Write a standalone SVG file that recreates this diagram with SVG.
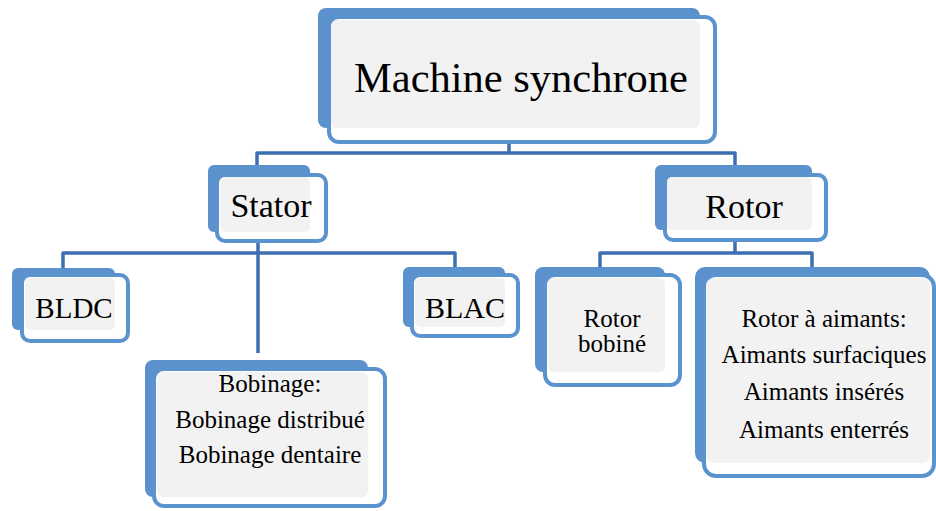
<svg xmlns="http://www.w3.org/2000/svg" width="936" height="511" viewBox="0 0 936 511">
  <style>
    .back { fill: #5b91cc; }
    .front { fill: #ffffff; stroke: #5b93cf; stroke-width: 4; }
    .face { fill: #f2f2f2; }
    .link { fill: none; stroke: #3d6fb3; stroke-width: 3.5; stroke-linejoin: round; }
    text { font-family: "Liberation Serif", "Times New Roman", serif; fill: #000; text-anchor: middle; }
  </style>

  <!-- connectors -->
  <g id="connectors">
    <path class="link" d="M509 144 V153 M257 165 V153 H735 V165"/>
    <path class="link" d="M258 243 V353 M63 268 V253 H455 V267"/>
    <path class="link" d="M735 242 V253 M600 267 V253 H812 V267"/>
  </g>

  <!-- root -->
  <g id="machine-synchrone">
    <rect class="back" x="318" y="8" width="382" height="120" rx="8"/>
    <rect class="front" x="329" y="17" width="386" height="125" rx="10"/>
    <rect class="face" x="331" y="20" width="369" height="108" rx="6"/>
    <text x="521" y="92" font-size="42.5">Machine synchrone</text>
  </g>

  <g id="stator">
    <rect class="back" x="208" y="165" width="102" height="67" rx="6"/>
    <rect class="front" x="217" y="175" width="109" height="66" rx="8"/>
    <rect class="face" x="220" y="177" width="90" height="55" rx="5"/>
    <text x="271" y="217" font-size="34">Stator</text>
  </g>

  <g id="rotor">
    <rect class="back" x="655" y="165" width="157" height="65" rx="6"/>
    <rect class="front" x="665" y="175" width="161" height="65" rx="8"/>
    <rect class="face" x="667" y="177" width="145" height="53" rx="5"/>
    <text x="744" y="218" font-size="34">Rotor</text>
  </g>

  <g id="bldc">
    <rect class="back" x="12" y="268" width="103" height="62" rx="6"/>
    <rect class="front" x="22" y="275" width="106" height="66" rx="8"/>
    <rect class="face" x="25" y="278" width="90" height="52" rx="5"/>
    <text x="74" y="318" font-size="29">BLDC</text>
  </g>

  <g id="blac">
    <rect class="back" x="403" y="267" width="102" height="60" rx="6"/>
    <rect class="front" x="412" y="275" width="106" height="61" rx="8"/>
    <rect class="face" x="415" y="278" width="90" height="49" rx="5"/>
    <text x="465" y="318" font-size="30">BLAC</text>
  </g>

  <g id="bobinage">
    <rect class="back" x="145" y="360" width="223" height="137" rx="8"/>
    <rect class="front" x="154" y="369" width="231" height="137" rx="10"/>
    <rect class="face" x="157" y="372" width="211" height="125" rx="6"/>
    <text x="270" y="392" font-size="25">Bobinage:</text>
    <text x="270" y="428" font-size="25">Bobinage distribué</text>
    <text x="270" y="463" font-size="25">Bobinage dentaire</text>
  </g>

  <g id="rotor-bobine">
    <rect class="back" x="535" y="267" width="130" height="105" rx="8"/>
    <rect class="front" x="545" y="275" width="135" height="110" rx="10"/>
    <rect class="face" x="548" y="278" width="117" height="94" rx="6"/>
    <text x="612" y="327" font-size="25">Rotor</text>
    <text x="612" y="352" font-size="25">bobiné</text>
  </g>

  <g id="rotor-aimants">
    <rect class="back" x="695" y="267" width="235" height="196" rx="10"/>
    <rect class="front" x="704" y="275" width="230" height="201" rx="12"/>
    <rect class="face" x="706" y="278" width="224" height="185" rx="8"/>
    <text x="824" y="327" font-size="25">Rotor à aimants:</text>
    <text x="824" y="363" font-size="25">Aimants surfaciques</text>
    <text x="824" y="400" font-size="25">Aimants insérés</text>
    <text x="824" y="438" font-size="25">Aimants enterrés</text>
  </g>
</svg>
